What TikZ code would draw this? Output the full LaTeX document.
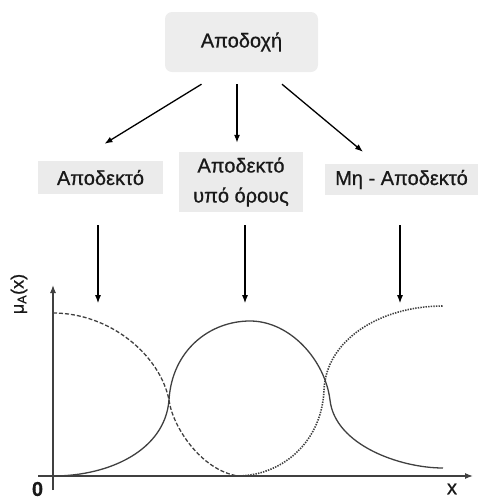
\documentclass[tikz,border=0pt]{standalone}
\usepackage{fontspec}
\setmainfont{Liberation Sans}[FakeBold=0.8]
\usetikzlibrary{positioning, arrows.meta}
\tikzset{>={Latex[length=8pt,width=6pt]}}
\tikzset{
    decision/.style = {rectangle, rounded corners=7pt, fill=black!7, minimum width=153pt,
                        minimum height=60pt, align=center},
    category/.style = {rectangle, fill=black!8, align=center, inner sep=0pt},
    member/.style = {line width=1.3pt, black!75},
    axis/.style = {line width=1.2pt, black!75}
}

\begin{document}
\begin{tikzpicture}[x=1pt, y=-1pt]
			\tikzstyle{every node}=[font=\fontsize{20}{30}\selectfont, text=black!90]
			\useasboundingbox (0,0) rectangle (480,499);
			\node (accept) [decision] at (241.5,42) {Αποδοχή};
			\node (acc) [category, minimum width=125pt, minimum height=33pt] at (100.5,177.5) {Αποδεκτό};
			\node (cond) [category, minimum width=124pt, minimum height=60pt] at (241,182) {Αποδεκτό\\υπό όρους};
			\node (rej) [category, minimum width=153pt, minimum height=31pt] at (401.5,179.5) {Μη - Αποδεκτό};
			\draw [->, line width=1.3pt] ([xshift=-40pt,yshift=-12pt]accept.south) to ([xshift=4pt,yshift=17pt]acc.north);
			\draw [->, line width=1.3pt] ([xshift=-4.5pt,yshift=-12pt]accept.south) to ([xshift=-4pt,yshift=9pt]cond.north);
			\draw [->, line width=1.3pt] ([xshift=40.5pt,yshift=-12pt]accept.south) to ([xshift=-38.5pt,yshift=12pt]rej.north);
			\draw [->, line width=1.3pt] ([xshift=-2.5pt,yshift=-31pt]acc.south) to ([xshift=-2.5pt,yshift=-109pt]acc.south);
			\draw [->, line width=1.3pt] ([xshift=4pt,yshift=-13pt]cond.south) to ([xshift=4pt,yshift=-91pt]cond.south);
			\draw [->, line width=1.3pt] ([xshift=-1.5pt,yshift=-30pt]rej.south) to ([xshift=-1.5pt,yshift=-108pt]rej.south);
			% axes
			\coordinate (ybot) at (53,490);
			\coordinate (ytop) at (53,285);
			\coordinate (xleft) at (38,476);
			\coordinate (xright) at (473,476);
			\draw [->, axis] (ybot) to (ytop);
			\draw [->, axis] (xleft) to (xright);
			\node (zero) [inner sep=1pt] at (37.5,489) {\textbf{0}};
			\node (xlab) [inner sep=1pt] at (452,489) {x};
			\node (mu) [rotate=90, font=\fontsize{18}{20}\selectfont] at (19,294) {μ\textsubscript{A}(x)};
			% membership curves
			\draw [member, dash pattern=on 4pt off 2pt] (53,313) .. controls (110,313) and (160,355) .. (169,400)
				.. controls (172,425) and (200,470) .. (238,476);
			\draw [member] (53,476) .. controls (110,476) and (165,450) .. (169,400)
				.. controls (172,350) and (210,321) .. (250,321)
				.. controls (290,321) and (325,360) .. (330,400)
				.. controls (335,445) and (400,468) .. (443,468);
			\draw [member, line width=1.6pt, dash pattern=on 1.4pt off 1.2pt] (240,476) .. controls (285,474) and (322,440) .. (324,390)
				.. controls (326,340) and (380,306) .. (443,306);
		\end{tikzpicture}
\end{document}
